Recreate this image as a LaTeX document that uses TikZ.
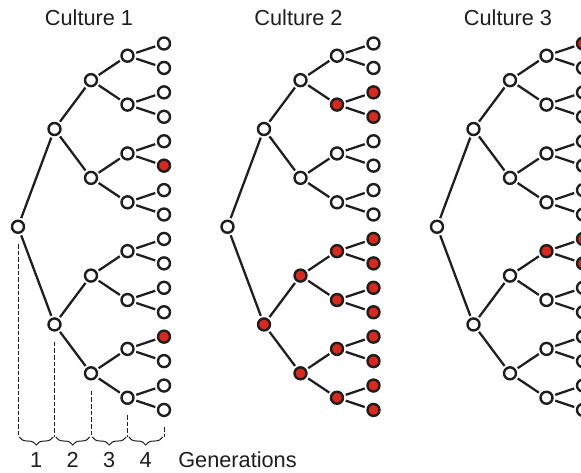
\documentclass[tikz,border=0pt]{standalone}
\usepackage{fontspec}
\setmainfont{Liberation Sans}
\usepackage{xcolor}
\definecolor{cellred}{RGB}{218, 41, 28}
\definecolor{ink}{RGB}{30, 30, 30}
\usetikzlibrary{decorations.pathreplacing}

\makeatletter
\newcommand\pickfill[2]{%
  \edef\pick@tmp{\noexpand\in@{.#1.}{#2}}\pick@tmp
  \ifin@\def\cellcol{cellred}\else\def\cellcol{white}\fi}
\makeatother

\begin{document}
\begin{tikzpicture}[x=0.75pt, y=-0.75pt,
		cell/.style={circle, draw=ink, line width=1.8pt, inner sep=0pt, minimum size=9pt},
		link/.style={draw=ink, line width=1.7pt, shorten <=1.5pt, shorten >=1.5pt},
		genline/.style={ink, line width=0.75pt, dash pattern=on 3.5pt off 1.5pt},
		genbrace/.style={ink, line width=0.75pt, decorate, decoration={brace, mirror, amplitude=6pt}},
		lbl/.style={font=\fontsize{16.3}{19}\selectfont, text=ink, inner sep=0pt}]
	\useasboundingbox (0,0) rectangle (581,472);
	\clip (0,0) rectangle (581,472);
	
	\foreach \cul/\dx/\reds in {1/0/.21.28., 2/209.5/.3.6.7.9.12.13.14.15.18.19.24.25.26.27.28.29.30.31., 3/419/.12.16.24.25.} {
		\node [lbl, anchor=base] (title\cul) at (89+\dx, 25) {Culture \cul};
		\foreach \gen in {0,...,4} {
			\pgfmathtruncatemacro\np{2^\gen-1}
			\foreach \pos in {0,...,\np} {
				\pgfmathtruncatemacro\idx{2^\gen+\pos}
				\pickfill{\idx}{\reds}
				\node [cell, fill=\cellcol] (n\cul-\idx) at ({18+36.5*\gen+\dx}, {43.5+24.43*((\pos+0.5)*2^(4-\gen)-0.5)}) {};
			}
		}
		\foreach \idx in {2,...,31} {
			\pgfmathtruncatemacro\up{\idx/2}
			\draw [link] (n\cul-\up) -- (n\cul-\idx);
		}
	}
	
	\coordinate (base) at (0,437);
	\foreach \idx/\gen in {1/0, 3/1, 7/2, 15/3, 31/4}
		\draw [genline] ([yshift=-7.5pt]n1-\idx.south) -- (n1-\idx |- base) coordinate (g\gen);
	\foreach \a/\b in {0/1, 1/2, 2/3, 3/4}
		\draw [genbrace] ([xshift=1pt]g\a) -- ([xshift=-1pt]g\b) node [lbl, midway, anchor=base, yshift=-22.5pt] {\b};
	\node [lbl, anchor=base west] (gens) at (178, 467) {Generations};
\end{tikzpicture}
\end{document}
